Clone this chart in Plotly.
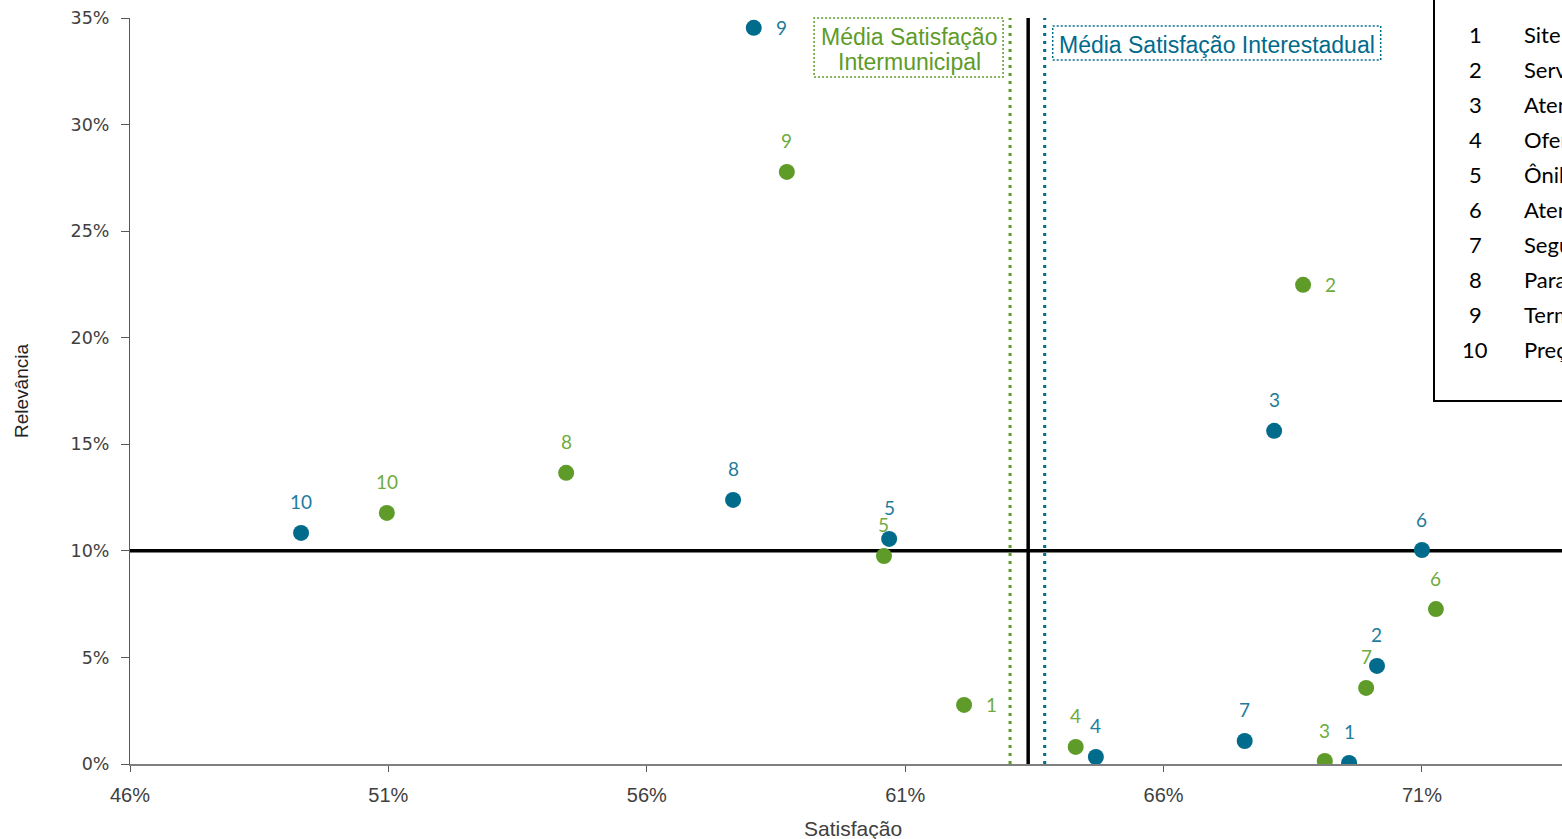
import plotly.graph_objects as go

# Atributos (numeração comum às duas séries)
ids = ["1", "2", "3", "4", "5", "6", "7", "8", "9", "10"]
attributes = ["Site", "Serviço de bordo", "Atendimento na compra", "Oferta de horários",
              "Ônibus", "Atendimento do motorista", "Segurança", "Paradas",
              "Terminal rodoviário", "Preço"]

# Satisfação (%) e relevância (%) — Interestadual
inter_sat = [69.59, 70.13, 68.14, 64.69, 60.69, 71.00, 67.57, 57.67, 58.07, 49.31]
inter_rel = [0.05, 4.60, 15.63, 0.33, 10.56, 10.04, 1.08, 12.39, 34.54, 10.84]

# Satisfação (%) e relevância (%) — Intermunicipal
muni_sat = [62.14, 68.70, 69.12, 64.30, 60.59, 71.27, 69.92, 54.44, 58.71, 50.97]
muni_rel = [2.77, 22.48, 0.14, 0.80, 9.76, 7.27, 3.57, 13.66, 27.78, 11.78]

# Posição do rótulo de cada ponto ("top" ou "right")
inter_lbl = ["top"] * 8 + ["right", "top"]
muni_lbl = ["right", "right", "top", "top", "top", "top", "top", "top", "top", "top"]

# Referências
mean_sat_inter = 63.70
mean_sat_muni = 63.03
mean_sat_all = 63.38
mean_rel = 10.0

x_ticks = [46, 51, 56, 61, 66, 71]
y_ticks = [0, 5, 10, 15, 20, 25, 30, 35]

BLUE = "#016B8C"
BLUE_TXT = "#1F7C9B"
GREEN = "#5E9B29"
GREEN_TXT = "#6FAB3E"
LBL_FONT = "Lato, Carlito, sans-serif"
BOX_FONT = "Liberation Sans, Arial, sans-serif"
NARROW = "Liberation Sans Narrow, Arial Narrow, sans-serif"

fig = go.Figure()

fig.add_trace(go.Scatter(x=muni_sat, y=muni_rel, mode="markers", name="Intermunicipal",
                         marker=dict(size=16, color=GREEN, line=dict(width=0)),
                         showlegend=False, hoverinfo="x+y"))
fig.add_trace(go.Scatter(x=inter_sat, y=inter_rel, mode="markers", name="Interestadual",
                         marker=dict(size=16, color=BLUE, line=dict(width=0)),
                         showlegend=False, hoverinfo="x+y"))

annotations = []


def point_labels(xs, ys, pos, color):
    for lab, xv, yv, p in zip(ids, xs, ys, pos):
        if p == "right":
            annotations.append(dict(x=xv, y=yv, xref="x", yref="y", text=lab, showarrow=False,
                                    xanchor="left", yanchor="middle", xshift=20,
                                    font=dict(family=LBL_FONT, size=19, color=color)))
        else:
            annotations.append(dict(x=xv, y=yv, xref="x", yref="y", text=lab, showarrow=False,
                                    xanchor="center", yanchor="middle", yshift=31,
                                    font=dict(family=LBL_FONT, size=19, color=color)))


point_labels(muni_sat, muni_rel, muni_lbl, GREEN_TXT)
point_labels(inter_sat, inter_rel, inter_lbl, BLUE_TXT)

shapes = [
    # linhas de média
    dict(type="line", xref="x", yref="y", x0=46, x1=80, y0=mean_rel, y1=mean_rel,
         line=dict(color="black", width=3.5), layer="below"),
    dict(type="line", xref="x", yref="paper", x0=mean_sat_all, x1=mean_sat_all, y0=0, y1=1,
         line=dict(color="black", width=3.5), layer="below"),
    dict(type="line", xref="x", yref="paper", x0=mean_sat_muni, x1=mean_sat_muni, y0=0, y1=1,
         line=dict(color=GREEN, width=3, dash="3px,5px"), layer="below"),
    dict(type="line", xref="x", yref="paper", x0=mean_sat_inter, x1=mean_sat_inter, y0=0, y1=1,
         line=dict(color=BLUE, width=3, dash="3px,5px"), layer="below"),
    # caixas dos rótulos das médias
    dict(type="rect", xref="x", yref="paper", xsizemode="pixel", ysizemode="pixel",
         xanchor=mean_sat_muni, yanchor=1, x0=-196, x1=-7, y0=-59, y1=0,
         line=dict(color=GREEN, width=1.5, dash="2px,2px"), fillcolor="white"),
    dict(type="rect", xref="x", yref="paper", xsizemode="pixel", ysizemode="pixel",
         xanchor=mean_sat_inter, yanchor=1, x0=8, x1=336, y0=-42, y1=-8,
         line=dict(color=BLUE, width=1.5, dash="2px,2px"), fillcolor="white"),
    # quadro dos atributos
    dict(type="rect", xref="paper", yref="paper", xsizemode="pixel", ysizemode="pixel",
         xanchor=1, yanchor=1, x0=-128, x1=200, y0=-383, y1=40,
         line=dict(color="black", width=2), fillcolor="white"),
]

# Rótulos das médias de satisfação
annotations.append(dict(x=mean_sat_muni, y=1, xref="x", yref="paper", xshift=-101, yshift=-19,
                        text="Média Satisfação", showarrow=False,
                        xanchor="center", yanchor="middle",
                        font=dict(family=BOX_FONT, size=23, color=GREEN)))
annotations.append(dict(x=mean_sat_muni, y=1, xref="x", yref="paper", xshift=-101, yshift=-44,
                        text="Intermunicipal", showarrow=False,
                        xanchor="center", yanchor="middle",
                        font=dict(family=BOX_FONT, size=23, color=GREEN)))
annotations.append(dict(x=mean_sat_inter, y=1, xref="x", yref="paper", xshift=172, yshift=-27,
                        text="Média Satisfação Interestadual", showarrow=False,
                        xanchor="center", yanchor="middle",
                        font=dict(family=BOX_FONT, size=23, color=BLUE)))

# Quadro numerado dos atributos
for i, (num, name) in enumerate(zip(ids, attributes)):
    yshift = -(16 + 35.1 * i)
    annotations.append(dict(x=1, y=1, xref="paper", yref="paper", xshift=-87, yshift=yshift,
                            text=num, showarrow=False, xanchor="center", yanchor="middle",
                            font=dict(family=LBL_FONT, size=22, color="black")))
    annotations.append(dict(x=1, y=1, xref="paper", yref="paper", xshift=-40, yshift=yshift,
                            text=name, showarrow=False, xanchor="left", yanchor="middle",
                            font=dict(family=LBL_FONT, size=22, color="black")))

# Título do eixo X
annotations.append(dict(x=0.5, y=0, xref="paper", yref="paper", xshift=7, yshift=-64,
                        text="Satisfação", showarrow=False, xanchor="center", yanchor="middle",
                        font=dict(family=NARROW, size=21, color="#404040")))

fig.update_layout(
    width=1562, height=839,
    margin=dict(l=130, r=0, t=18, b=75),
    paper_bgcolor="white", plot_bgcolor="white",
    shapes=shapes, annotations=annotations,
    showlegend=False,
    xaxis=dict(range=[46, 73.71], tickvals=x_ticks, ticktext=[f"{v}%" for v in x_ticks],
               showgrid=False, zeroline=False, showline=True, linecolor="#7F7F7F", linewidth=1.5,
               ticks="outside", ticklen=6, tickcolor="#595959", tickwidth=1,
               ticklabelstandoff=6,
               tickfont=dict(family=NARROW, size=20, color="#404040")),
    yaxis=dict(range=[0, 35], tickvals=y_ticks, ticktext=[f"{v}%" for v in y_ticks],
               showgrid=False, zeroline=False, showline=True, linecolor="#595959", linewidth=1,
               ticks="outside", ticklen=8, tickcolor="#595959", tickwidth=1,
               ticklabelstandoff=8,
               tickfont=dict(family="DejaVu Sans, Verdana, sans-serif", size=17.5, color="#404040"),
               title=dict(text="Relevância", standoff=36,
                          font=dict(family=NARROW, size=19, color="#222222"))),
)

fig.write_html("out.html")
